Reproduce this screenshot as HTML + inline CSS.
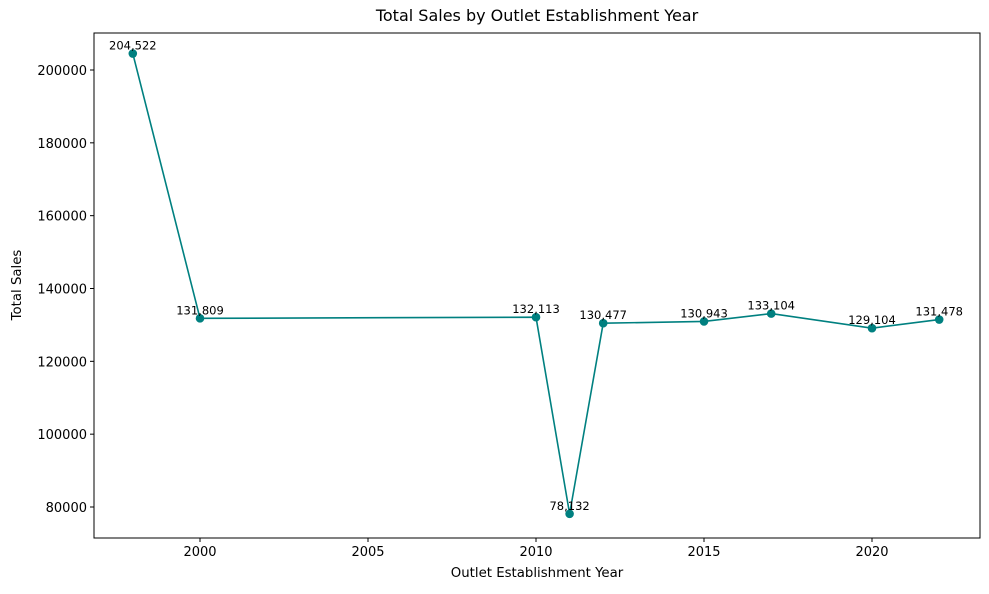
<!DOCTYPE html>
<html><head><meta charset="utf-8"><style>
body{margin:0;background:#fff;font-family:"DejaVu Sans","Liberation Sans",sans-serif}
svg text{font-family:"DejaVu Sans","Liberation Sans",sans-serif}
</style></head><body>
<svg id="chart" width="989" height="590">
<rect x="0" y="0" width="989" height="590" fill="#fff"/>
<text x="537" y="21" text-anchor="middle" font-size="16">Total Sales by Outlet Establishment Year</text>
<text x="537" y="577" text-anchor="middle" font-size="13.3">Outlet Establishment Year</text>
<text x="21" y="285" text-anchor="middle" font-size="13.3" transform="rotate(-90 21 285)">Total Sales</text>
<g id="axes"></g><g id="series"></g>
<rect x="94" y="33" width="886" height="505" fill="none" stroke="#000" stroke-width="1"/>
</svg>
<script>
const years=[1998,2000,2010,2011,2012,2015,2017,2020,2022];
const sales=[204522,131809,132113,78132,130477,130943,133104,129104,131478];
const xTicks=[2000,2005,2010,2015,2020];
const yTicks=[80000,100000,120000,140000,160000,180000,200000];
const L=94,R=980,T=33,B=538;
const xMin=1996.845,xMax=2023.214,yMin=71487,yMax=210160;
const xs=v=>L+(v-xMin)/(xMax-xMin)*(R-L);
const ys=v=>B-(v-yMin)/(yMax-yMin)*(B-T);
const NS="http://www.w3.org/2000/svg";
const axes=document.getElementById('axes'),ser=document.getElementById('series');
function mk(t,a,p){const e=document.createElementNS(NS,t);for(const k in a)e.setAttribute(k,a[k]);p.appendChild(e);return e;}
xTicks.forEach(t=>{const x=xs(t);
const l=mk('line',{x1:x,x2:x,y1:B,y2:B+4,stroke:'#000'},axes);


const tx=mk('text',{x:x,y:B+18,'text-anchor':'middle','font-size':13},axes);tx.textContent=t;

});
yTicks.forEach(t=>{const y=ys(t);
const l=mk('line',{x1:L-4,x2:L,y1:y,y2:y,stroke:'#000'},axes);


const tx=mk('text',{x:L-7,y:y+5,'text-anchor':'end','font-size':13},axes);tx.textContent=t;

});
const pl=mk('polyline',{points:years.map((y,i)=>xs(y)+','+ys(sales[i])).join(' '),fill:'none',stroke:'#008080','stroke-width':1.6},ser);


years.forEach((yr,i)=>{const x=xs(yr),y=ys(sales[i]);
const c=mk('circle',{cx:x,cy:y,r:4.3,fill:'#008080'},ser);


const tx=mk('text',{x:x,y:y-4,'text-anchor':'middle','font-size':11.5},ser);tx.textContent=sales[i].toLocaleString('en-US');

});
</script>
</body></html>
